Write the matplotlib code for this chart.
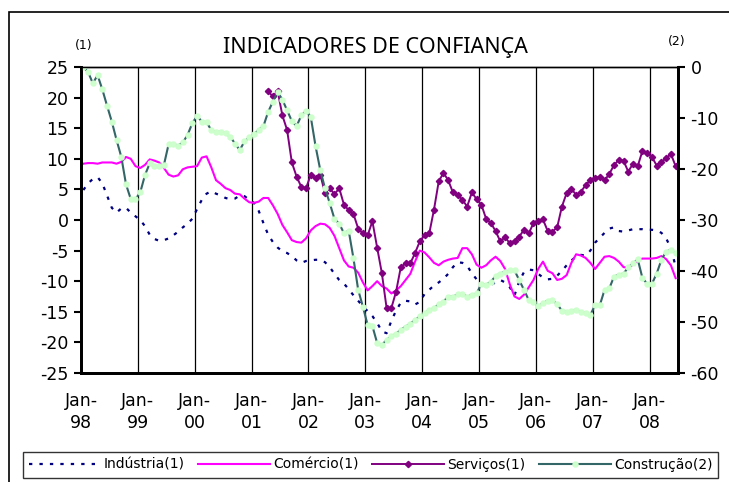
import matplotlib
matplotlib.use("Agg")
import matplotlib.pyplot as plt
import numpy as np
from matplotlib.patches import Rectangle

plt.rcParams["axes.unicode_minus"] = False

# monthly data, Jan-98 .. Jun-08
year_labels = ["98", "99", "00", "01", "02", "03", "04", "05", "06", "07", "08"]

industria = [
    4.9, 6.0, 6.7, 7.0, 6.0, 4.0, 2.0, 1.2, 1.9, 2.0, 1.2, 0.6,
    0.0, -1.0, -2.4, -3.1, -3.4, -3.3, -3.0, -2.5, -1.9, -1.2, -0.6, 0.2,
    1.8, 3.3, 4.3, 4.7, 4.3, 4.0, 3.6, 3.4, 3.5, 4.0, 3.9, 3.3,
    2.8, 1.5, -0.5, -2.4, -3.6, -4.5, -5.1, -5.4, -5.9, -6.6, -7.0, -6.7,
    -6.6, -6.5, -6.5, -6.9, -7.7, -8.8, -9.8, -10.4, -11.3, -12.3, -13.2, -14.1,
    -14.9, -15.7, -16.8, -18.2, -18.5, -16.5, -14.8, -13.5, -13.2, -13.3, -13.8, -13.4,
    -12.1, -11.4, -10.7, -10.2, -9.6, -8.8, -7.7, -6.9, -7.0, -7.5, -8.7, -9.7,
    -10.3, -10.7, -10.6, -10.2, -9.8, -10.2, -11.0, -12.3, -10.0, -8.5, -8.1, -8.2,
    -8.8, -9.4, -9.7, -9.6, -9.1, -8.3, -7.4, -6.6, -6.0, -5.7, -5.8, -5.0,
    -3.7, -2.9, -2.1, -1.4, -1.2, -1.8, -1.9, -1.7, -1.5, -1.5, -1.5, -1.6,
    -1.6, -1.7, -2.1, -3.0, -4.6, -7.6,
]

comercio = [
    9.2, 9.3, 9.3, 9.2, 9.4, 9.4, 9.4, 9.2, 9.5, 10.3, 10.0, 8.8,
    8.5, 9.0, 9.9, 9.7, 9.4, 8.5, 7.4, 7.1, 7.3, 8.3, 8.6, 8.7,
    8.8, 10.2, 10.4, 8.6, 6.5, 5.9, 5.2, 4.9, 4.3, 4.2, 3.5, 2.9,
    2.8, 3.0, 3.6, 3.6, 2.4, 1.0, -0.8, -2.0, -3.3, -3.6, -3.7, -3.0,
    -1.7, -1.0, -0.6, -0.7, -1.3, -2.6, -4.6, -6.6, -7.6, -7.8, -8.6, -10.2,
    -11.5, -10.8, -10.0, -10.8, -11.2, -12.0, -11.5, -10.8, -9.8, -8.8, -6.8, -5.0,
    -5.3, -6.1, -7.0, -7.4, -6.8, -6.5, -6.3, -6.2, -4.6, -4.6, -5.6, -7.3,
    -7.8, -7.4, -6.6, -6.0, -6.7, -8.0, -10.5, -12.5, -12.9, -12.2, -11.0, -9.8,
    -8.0, -6.8, -8.3, -8.7, -9.8, -9.6, -9.0, -7.0, -5.6, -5.8, -6.2, -7.0,
    -8.0, -7.0, -6.0, -5.9, -6.2, -6.8, -7.7, -7.8, -7.3, -6.6, -6.3, -6.3,
    -6.3, -6.2, -5.9, -6.4, -7.4, -9.5,
]

# services series starts in Apr-01
servicos_start = 39
servicos = [
    21.0, 20.2, 21.1, 17.1, 14.7, 9.4, 7.1, 5.4, 5.2,
    7.4, 6.8, 7.4, 4.4, 5.2, 4.2, 5.2, 2.5, 1.6, 1.0, -1.4, -2.2,
    -2.5, -0.2, -4.5, -8.7, -14.4, -14.4, -11.7, -7.7, -7.1, -7.1, -5.4, -3.5,
    -2.5, -2.2, 1.7, 6.3, 7.7, 6.5, 4.5, 4.1, 3.3, 2.2, 4.5, 3.4,
    2.5, 0.2, -0.5, -1.8, -3.5, -2.8, -3.8, -3.4, -2.7, -1.6, -2.2, -0.5,
    -0.1, 0.1, -1.8, -1.9, -1.2, 2.2, 4.4, 5.1, 4.1, 4.6, 5.7, 6.5,
    6.8, 7.1, 6.5, 7.5, 9.0, 9.8, 9.7, 7.9, 9.2, 8.8, 11.3, 11.0,
    10.3, 8.9, 9.5, 10.1, 10.8, 8.8,
]

# construction, right axis
construcao = [
    0.0, -1.0, -3.2, -1.6, -4.4, -7.6, -10.7, -14.3, -17.6, -23.0, -25.9, -25.9,
    -24.6, -21.2, -18.9, -19.5, -19.5, -19.2, -15.1, -15.1, -15.4, -14.8, -13.3, -11.0,
    -9.6, -10.7, -10.8, -12.4, -12.7, -12.7, -13.0, -13.7, -15.0, -16.3, -14.6, -13.8,
    -13.2, -12.3, -11.6, -8.8, -6.8, -4.9, -6.4, -8.5, -10.6, -11.6, -9.5, -8.6,
    -9.8, -15.5, -20.2, -23.8, -26.7, -29.8, -30.7, -32.6, -32.1, -37.5, -43.7, -47.0,
    -50.6, -50.8, -54.1, -54.5, -53.5, -52.8, -52.3, -51.5, -50.9, -50.3, -49.6, -48.9,
    -48.3, -47.6, -47.3, -46.5, -46.0, -45.0, -45.0, -44.6, -44.5, -45.0, -44.7, -44.4,
    -42.5, -42.7, -42.1, -41.0, -40.5, -40.1, -39.9, -39.9, -41.8, -43.7, -45.7, -46.0,
    -46.9, -46.3, -45.8, -45.7, -46.5, -47.8, -48.0, -47.8, -47.6, -48.0, -48.2, -48.6,
    -46.7, -46.7, -43.7, -43.4, -41.1, -40.7, -40.5, -39.3, -38.5, -37.7, -41.4, -42.5,
    -42.5, -40.5, -37.8, -36.2, -35.8, -36.5,
]

W, H = 729, 482


def make_chart():
    """
    Build the two axis confidence chart and save it
    """
    fig = plt.figure(figsize=(W / 100, H / 100), dpi=100)
    # outer chart border
    fig.patches.append(Rectangle((9 / W, -0.05), 1.1, 1.05 - 12 / H, transform=fig.transFigure,
                                 fill=False, edgecolor="black", linewidth=1.2))

    ax = fig.add_axes([81 / W, 1 - 373 / H, 597 / W, 306 / H])
    ax2 = ax.twinx()

    n = len(industria)
    x = np.arange(n) + 0.5
    xs = np.arange(servicos_start, servicos_start + len(servicos)) + 0.5

    l1, = ax.plot(x, industria, color="#000080", lw=1.6, linestyle=(0, (1.5, 3.2)),
                  label="Indústria(1)")
    l2, = ax.plot(x, comercio, color="#FF00FF", lw=1.5, label="Comércio(1)")
    l3, = ax.plot(xs, servicos, color="#800080", lw=1.4, marker="D", markersize=3.2,
                  label="Serviços(1)")
    l4, = ax2.plot(x, construcao, color="#336666", lw=1.5, marker="o", markersize=3.6,
                   markerfacecolor="#CCFFCC", markeredgecolor="#CCFFCC",
                   label="Construção(2)")

    ax.set_xlim(0, n)
    ax.set_ylim(-25, 25)
    ax2.set_ylim(-60, 0)
    ax.set_yticks(np.arange(-25, 26, 5))
    ax2.set_yticks(np.arange(-60, 1, 10))

    # year gridlines and labels
    ax.set_xticks(np.arange(0, n, 12))
    ax.set_xticklabels(["Jan-\n" + y for y in year_labels], fontsize=12.5, linespacing=1.25)
    ax.tick_params(axis="x", length=0, pad=14)
    ax.grid(axis="x", color="black", lw=0.9)
    ax.tick_params(axis="y", direction="out", length=5, width=1.5, labelsize=12.5, pad=4)
    ax2.tick_params(axis="y", direction="out", length=5, width=1.5, labelsize=12.5, pad=4)

    for a in (ax, ax2):
        for side in ("left", "bottom", "right"):
            a.spines[side].set_linewidth(2)
        a.spines["top"].set_linewidth(1)

    fig.text(375 / W, 1 - 47 / H, "INDICADORES DE CONFIANÇA", family="Noto Sans",
             fontsize=15.5, ha="center", va="center")
    fig.text(84 / W, 1 - 45 / H, "(1)", fontsize=9, ha="center", va="center")
    fig.text(677 / W, 1 - 42 / H, "(2)", fontsize=9, ha="center", va="center")

    leg = fig.legend(handles=[l1, l2, l3, l4], loc="center", ncol=4,
                     bbox_to_anchor=(23 / W, 1 - 481 / H, 695 / W, 32 / H),
                     mode="expand", borderaxespad=0, fontsize=10, handlelength=5.2,
                     handletextpad=0.2, columnspacing=0.6, frameon=True, fancybox=False,
                     borderpad=0.4)
    leg.get_frame().set_edgecolor("black")
    leg.get_frame().set_linewidth(1)

    fig.savefig("out.png", dpi=100)


if __name__ == "__main__":
    make_chart()
